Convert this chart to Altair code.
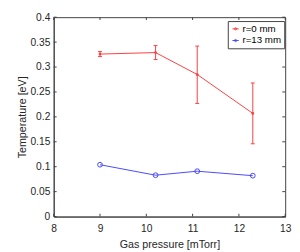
import altair as alt
import pandas as pd

# Data
pressure = [9.0, 10.2, 11.1, 12.3]
temp_r0 = [0.326, 0.329, 0.285, 0.207]
err_lo_r0 = [0.321, 0.315, 0.227, 0.146]
err_hi_r0 = [0.331, 0.343, 0.342, 0.268]
temp_r13 = [0.104, 0.083, 0.091, 0.082]
series = ["r=0 mm", "r=13 mm"]
colors = ["#ff3c3c", "#4646ff"]

x_ticks = [8, 9, 10, 11, 12, 13]
y_ticks = [0, 0.05, 0.1, 0.15, 0.2, 0.25, 0.3, 0.35, 0.4]

W, H = 238, 205
AX = "#404040"
TX = "#262626"
FONT = "Liberation Sans"

df = pd.DataFrame({
    "p": pressure * 2,
    "T": temp_r0 + temp_r13,
    "s": [series[0]] * 4 + [series[1]] * 4,
})
err = pd.DataFrame({"p": pressure, "lo": err_lo_r0, "hi": err_hi_r0, "s": series[0]})
xt = pd.DataFrame({"t": x_ticks})
yt = pd.DataFrame({"t": y_ticks})

xs = alt.Scale(domain=[8, 13], nice=False, zero=False)
ys = alt.Scale(domain=[0, 0.4], nice=False)
cs = alt.Scale(domain=series, range=colors)

X_AXIS = alt.Axis(values=x_ticks, tickSize=0, labelPadding=7, format="d",
                  labelOverlap=False, labelFlush=False)
Y_AXIS = alt.Axis(values=y_ticks, tickSize=0, labelPadding=4, format="~g",
                  labelOverlap=False, labelFlush=False)


def XE(f):
    return alt.X(f, scale=xs, title="Gas pressure [mTorr]", axis=X_AXIS)


def YE(f):
    return alt.Y(f, scale=ys, title="Temperature [eV]", axis=Y_AXIS)


legend_symbol = "M-1,0H1M0.35,0A0.35,0.35,0,1,1,-0.35,0A0.35,0.35,0,1,1,0.35,0"

lines = alt.Chart(df).mark_line(strokeWidth=1).encode(
    x=XE("p:Q"), y=YE("T:Q"),
    color=alt.Color("s:N", scale=cs, title=None,
                    legend=alt.Legend(orient="none", legendX=179, legendY=4,
                                      symbolType=legend_symbol, symbolSize=42,
                                      symbolFillColor="transparent",
                                      symbolStrokeWidth=1,
                                      strokeColor=AX, fillColor="white",
                                      padding=3, labelFontSize=10,
                                      labelColor="#000000", rowPadding=2,
                                      labelOffset=2)),
)

pts_r0 = alt.Chart(df).transform_filter(alt.datum.s == series[0]).mark_point(
    filled=True, size=8, color=colors[0], opacity=1).encode(x=XE("p:Q"), y=YE("T:Q"))
pts_r13 = alt.Chart(df).transform_filter(alt.datum.s == series[1]).mark_point(
    filled=False, size=24, strokeWidth=1, color=colors[1], opacity=1).encode(x=XE("p:Q"), y=YE("T:Q"))

bars = alt.Chart(err).mark_rule(color=colors[0], strokeWidth=1).encode(
    x=XE("p:Q"), y=YE("lo:Q"), y2="hi:Q")
cap_lo = alt.Chart(err).mark_tick(color=colors[0], orient="horizontal", size=4, thickness=1, opacity=1).encode(
    x=XE("p:Q"), y=YE("lo:Q"))
cap_hi = alt.Chart(err).mark_tick(color=colors[0], orient="horizontal", size=4, thickness=1, opacity=1).encode(
    x=XE("p:Q"), y=YE("hi:Q"))

# inward ticks (MATLAB style)
tb = alt.Chart(xt).mark_tick(color=AX, orient="vertical", size=3, thickness=1, yOffset=-1.5, opacity=1).encode(
    x=XE("t:Q"), y=alt.value(H))
tt = alt.Chart(xt).mark_tick(color=AX, orient="vertical", size=3, thickness=1, yOffset=1.5, opacity=1).encode(
    x=XE("t:Q"), y=alt.value(0))
tl = alt.Chart(yt).mark_tick(color=AX, orient="horizontal", size=3, thickness=1, xOffset=1.5, opacity=1).encode(
    y=YE("t:Q"), x=alt.value(0))
tr = alt.Chart(yt).mark_tick(color=AX, orient="horizontal", size=3, thickness=1, xOffset=-1.5, opacity=1).encode(
    y=YE("t:Q"), x=alt.value(W))

chart = alt.layer(lines, bars, cap_lo, cap_hi, pts_r0, pts_r13, tb, tt, tl, tr).properties(
    width=W, height=H,
    autosize=alt.AutoSizeParams(type="none"),
    padding={"left": 47, "top": 6, "right": 7, "bottom": 33},
).configure_view(stroke=AX, strokeWidth=1).configure_axis(
    domainColor=AX, grid=False, labelFont=FONT, titleFont=FONT,
    labelFontSize=10.5, titleFontSize=11, labelColor=TX, titleColor=TX,
    titleFontWeight="normal",
).configure_axisX(titlePadding=5).configure_axisY(titlePadding=3).configure_legend(
    labelFont=FONT
)

chart.save("out.html", embed_options={"renderer": "svg", "actions": False})
